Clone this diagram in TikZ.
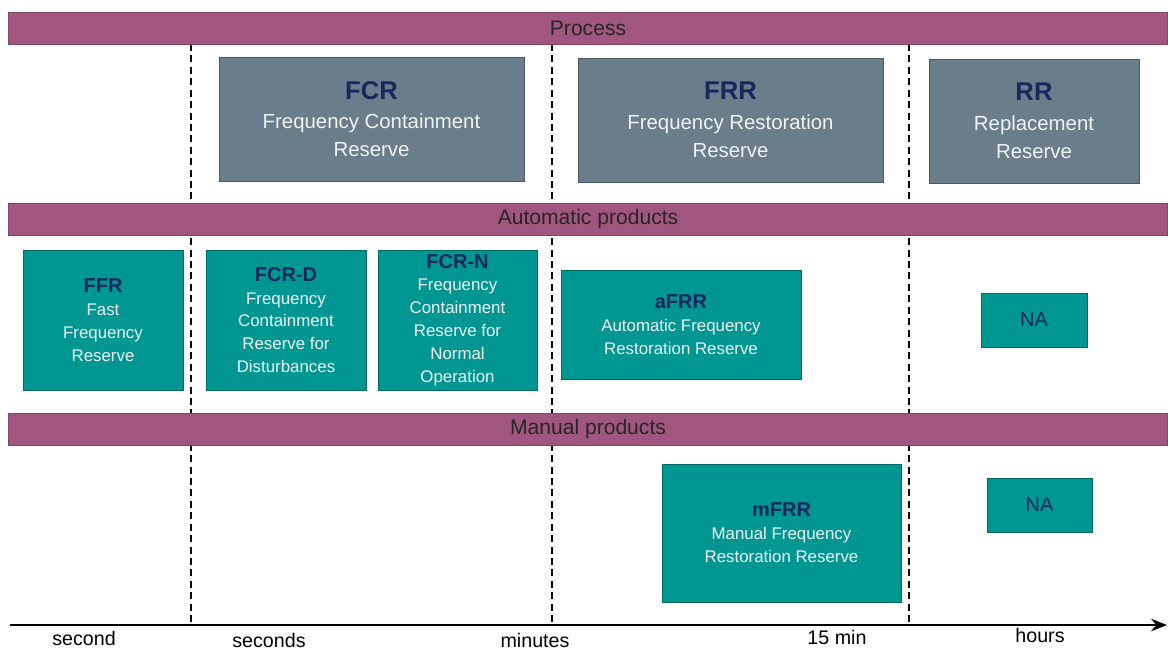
\documentclass[tikz,border=0pt]{standalone}
\usepackage{fontspec}
\setmainfont{Liberation Sans}
\usetikzlibrary{arrows.meta,positioning}
\definecolor{bandpurple}{RGB}{161,86,127}
\definecolor{procgray}{RGB}{105,125,138}
\definecolor{prodteal}{RGB}{0,151,146}
\definecolor{titlenavy}{RGB}{22,40,92}
\definecolor{boxtext}{RGB}{238,243,243}
\tikzset{%
   band/.style={rectangle, fill=bandpurple, draw=bandpurple!80!black, line width=0.5pt, inner sep=0pt,
     minimum width=23.2cm, minimum height=0.64cm, text=black!85, font=\fontsize{12}{14}\selectfont},
   procbox/.style={rectangle, fill=procgray, draw=procgray!70!black, line width=0.4pt, inner sep=0pt,
     align=center, text=boxtext, font=\fontsize{11.6}{15.9}\selectfont},
   prodbox/.style={rectangle, fill=prodteal, draw=prodteal!70!black, line width=0.4pt, inner sep=0pt,
     align=center, text=boxtext, font=\fontsize{9.6}{13}\selectfont},
   divider/.style={dash pattern=on 4pt off 2.5pt, line width=0.7pt},
   timeaxis/.style={line width=1.3pt, -{Stealth[length=9pt, width=7pt]}},
   tick/.style={font=\fontsize{11.2}{13}\selectfont},
}
\newcommand{\ptitle}[1]{{\fontsize{14.6}{18}\selectfont\bfseries\color{titlenavy}#1}}
\newcommand{\ttitle}[1]{{\fontsize{11.4}{14}\selectfont\bfseries\color{titlenavy}#1}}

\begin{document}
\begin{tikzpicture}[x=0.02cm, y=-0.02cm]
   \useasboundingbox (0,0) rectangle (1168,650);

   % time scale dividers
   \foreach \x/\n in {191/a, 552/b, 909/c} {
      \coordinate (d\n top) at (\x,44);
      \coordinate (d\n bot) at (\x,622);
      \draw[divider] (d\n top) -- (d\n bot);
   }

   % row headers
   \node[band] (process) at (588,28) {Process};
   \node[band] (auto) at (588,219.5) {Automatic products};
   \node[band] (manual) at (588,429) {Manual products};

   % processes
   \node[procbox, minimum width=6.1cm, minimum height=2.48cm] (fcr) at (371.5,119)
      {\ptitle{FCR}\\[1pt] Frequency Containment\\ Reserve};
   \node[procbox, minimum width=6.1cm, minimum height=2.48cm] (frr) at (730.5,120)
      {\ptitle{FRR}\\[1pt] Frequency Restoration\\ Reserve};
   \node[procbox, minimum width=4.2cm, minimum height=2.48cm] (rr) at (1034,121)
      {\ptitle{RR}\\[1pt] Replacement\\ Reserve};

   % automatic products
   \node[prodbox, minimum width=3.2cm, minimum height=2.8cm] (ffr) at (103,320)
      {\ttitle{FFR}\\ Fast\\ Frequency\\ Reserve};
   \node[prodbox, minimum width=3.2cm, minimum height=2.8cm] (fcrd) at (286,320)
      {\ttitle{FCR-D}\\ Frequency\\ Containment\\ Reserve for\\ Disturbances};
   \node[prodbox, minimum width=3.18cm, minimum height=2.8cm] (fcrn) at (457.5,320)
      {\ttitle{FCR-N}\\ Frequency\\ Containment\\ Reserve for\\ Normal\\ Operation};
   \node[prodbox, minimum width=4.8cm, minimum height=2.18cm] (afrr) at (681,324.5)
      {\ttitle{aFRR}\\ Automatic Frequency\\ Restoration Reserve};
   \node[prodbox, minimum width=2.12cm, minimum height=1.08cm] (naauto) at (1034,320)
      {\ttitle{\mdseries NA}};

   % manual products
   \node[prodbox, minimum width=4.78cm, minimum height=2.76cm] (mfrr) at (781.5,533)
      {\ttitle{mFRR}\\ Manual Frequency\\ Restoration Reserve};
   \node[prodbox, minimum width=2.1cm, minimum height=1.08cm] (naman) at (1039.5,505)
      {\ttitle{\mdseries NA}};

   % time axis
   \coordinate (t0) at (10,625);
   \coordinate (t1) at (1167,625);
   \draw[timeaxis] (t0) -- (t1);
   \node[tick] (second) at (84,638) {second};
   \node[tick] (seconds) at (269,640) {seconds};
   \node[tick] (minutes) at (535,640) {minutes};
   \node[tick] (fifteen) at (837,637) {15 min};
   \node[tick] (hours) at (1040,635) {hours};
\end{tikzpicture}
\end{document}
